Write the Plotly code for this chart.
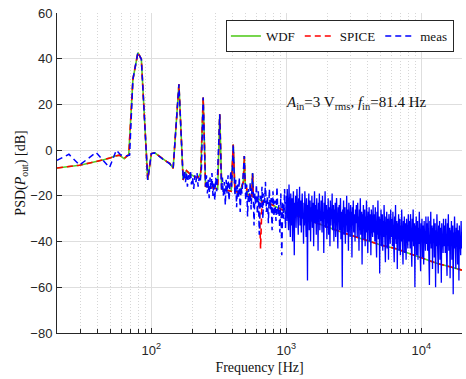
import numpy as np
import plotly.graph_objects as go

# ---------------- data ----------------
wdf_freq = [20, 25, 29.4, 35, 40, 45, 50, 53, 58, 63, 68, 73, 79.5, 84.3, 94, 100, 106, 115, 122, 130,
            137, 145, 160, 172, 182, 195, 210, 222, 232, 242, 252, 270, 290, 310, 321, 332, 360, 390,
            404, 416, 450, 480, 488, 495, 520, 555, 562, 569, 600, 650, 730, 850, 1000, 1300, 1860,
            2600, 3700, 5000, 6400, 8000, 10000, 13000, 16300, 20000]
wdf_db = [-7.8, -7.2, -6.6, -5.6, -4.9, -4.1, -3.3, -2.7, -2.2, -3.8, -2.0, 31, 42.7, 39.8, -13, -1.5, -1.2, -2.8, -4, -5,
          -5.8, -8, 28.8, -13, -9, -10.6, -11.6, -12, -10, 23, -15.8, -16, -16.5, -17, 15.7, -17, -17.5, -18,
          2.5, -18, -18.5, -14, -2.6, -14, -19.5, -20, -10, -20.5, -21, -22, -23, -25, -27, -29.5, -33,
          -36, -39, -41.5, -43, -45, -47, -49.5, -51, -52.5]

spice_freq = [20, 25, 29.4, 35, 40, 45, 50, 53, 58, 63, 68, 73, 79.5, 84.3, 94, 100, 106, 115, 122, 130,
              137, 145, 160, 172, 182, 195, 210, 222, 232, 242, 252, 270, 290, 310, 321, 332, 360, 390,
              404, 416, 450, 480, 488, 495, 520, 555, 562, 569, 600, 630, 644, 660, 730, 850, 1000, 1300, 1860,
              2600, 3700, 5000, 6400, 8000, 10000, 13000, 16300, 20000]
spice_db = [-7.8, -7.2, -6.6, -5.6, -4.9, -4.1, -3.3, -2.7, -2.2, -3.6, -2.0, 31, 42.7, 39.8, -13, -1.5, -1.2, -2.8, -4, -5,
            -5.8, -8, 28.8, -13, -9, -10.6, -11.6, -12, -10, 23, -15.8, -16, -16.5, -17, 15.7, -17, -17.5, -18,
            2.5, -18, -18.5, -14, -2.6, -14, -19.5, -20, -10, -20.5, -21, -22, -43, -22.5, -23, -25, -27, -29.5, -33,
            -36, -39, -41.5, -43, -45, -47, -49.5, -51, -52.5]

meas_lo_freq = [20, 24.5, 29.4, 39, 49, 55, 59, 64, 69, 73, 79.5, 84.3, 94, 100, 106, 115, 122, 130, 137, 145,
                160, 172, 176, 179, 182, 185, 188, 192, 195, 198, 202, 206, 210, 214, 218, 222, 226, 230, 235,
                242, 252, 256, 260, 264, 268, 272, 277, 281, 286, 290, 295, 300, 305, 310, 321, 331, 336, 341,
                347, 353, 358, 364, 370, 376, 382, 388, 394, 404, 416, 422, 428, 435, 442, 448, 455, 462, 469,
                476, 482, 488, 500, 508, 516, 524, 532, 540, 548, 556, 562, 568, 576, 584, 592, 600, 610, 620,
                630, 640, 650, 660, 670, 680, 690, 700, 712, 724, 736, 748, 760, 772, 784, 796, 810, 824, 838,
                852, 866, 880, 895, 910, 925, 940, 955, 970, 985, 1000]
meas_lo_db = [-4.5, -1.8, -6.5, -1.0, -7.6, 0, -2.0, -2.6, -2.2, 31, 42.7, 39.8, -13, -1.5, -1.2, -3, -4, -5, -6, -8,
              28.8, -13, -9, -14, -10, -16, -11, -13, -9, -15, -12, -17, -11, -14, -10, -16, -12, -14, -8,
              23, -16, -11, -19, -13, -21, -12, -17, -10, -20, -14, -22, -12, -18, -9, 15.7, -18, -12, -20,
              -14, -24, -13, -19, -11, -22, -15, -9, -16, 2.5, -20, -13, -25, -15, -21, -12, -27, -16, -19,
              -11, -8, -2.6, -22, -15, -29, -17, -23, -14, -26, -13, -10, -18, -33, -19, -24, -15, -28, -18,
              -37, -20, -25, -16, -30, -19, -23, -14, -27, -20, -32, -17, -26, -21, -35, -18, -29, -22, -31,
              -16, -28, -24, -36, -19, -46, -23, -30, -17, -34, -20]

meas_hf_db = [
    -20, -31, -17, -28, -24, -35, -15, -29, -22, -38, -19, -27, -33, -21, -40, -25, -18, -30, -46, -23,
    -27, -20, -34, -26, -17, -31, -24, -37, -21, -29, -16, -33, -27, -22, -36, -25, -19, -30, -28, -41,
    -23, -33, -18, -29, -26, -38, -21, -30, -57, -24, -28, -19, -35, -27, -22, -40, -25, -31, -20, -34,
    -29, -23, -42, -26, -18, -32, -28, -24, -37, -21, -30, -26, -44, -23, -29, -19, -35, -27, -31, -22,
    -25, -36, -20, -31, -27, -45, -23, -30, -18, -34, -28, -24, -39, -26, -32, -21, -37, -29, -25, -42,
    -22, -33, -27, -30, -19, -35, -28, -24, -40, -26, -31, -23, -38, -29, -21, -34, -27, -43, -25, -30,
    -24, -35, -28, -21, -39, -27, -32, -60, -26, -30, -22, -37, -29, -25, -41, -28, -33, -20, -36, -30,
    -26, -44, -23, -34, -29, -38, -24, -31, -27, -47, -25, -33, -22, -36, -30, -28, -40, -26, -32, -24,
    -27, -38, -23, -33, -29, -44, -26, -35, -21, -37, -31, -27, -50, -28, -34, -24, -39, -30, -26, -42,
    -29, -36, -22, -33, -31, -45, -27, -35, -25, -40, -30, -28, -46, -26, -34, -32, -38, -24, -36, -29,
    -28, -40, -25, -35, -31, -47, -27, -37, -22, -39, -33, -29, -54, -30, -36, -26, -42, -32, -28, -44,
    -31, -38, -24, -35, -33, -49, -29, -37, -27, -43, -32, -30, -48, -28, -36, -34, -41, -26, -38, -31,
    -30, -42, -27, -37, -33, -49, -29, -39, -24, -41, -35, -31, -52, -32, -38, -28, -44, -34, -30, -46,
    -33, -40, -26, -37, -35, -50, -31, -39, -29, -45, -34, -32, -48, -30, -38, -36, -43, -28, -40, -33,
    -31, -43, -28, -38, -34, -51, -30, -40, -26, -42, -36, -32, -60, -33, -39, -29, -46, -35, -31, -48,
    -34, -41, -27, -38, -36, -53, -32, -40, -30, -47, -35, -33, -50, -31, -39, -37, -44, -29, -41, -34,
    -32, -44, -29, -39, -35, -59, -31, -41, -27, -43, -37, -33, -52, -34, -40, -30, -47, -36, -32, -60,
    -35, -42, -28, -39, -37, -54, -33, -41, -31, -48, -36, -34, -58, -32, -40, -38, -45, -30, -42, -35,
    -33, -45, -30, -40, -36, -55, -32, -42, -28, -44, -38, -34, -56, -35, -41, -31, -48, -37, -33, -63,
    -36, -43, -29, -40, -38, -52, -34, -42, -32, -50, -37, -35, -57, -33, -41, -39, -46, -31, -43, -36,
]
# frequency bins of the high-frequency part (evenly spaced on the log axis, 1 kHz .. 20 kHz)
meas_hf_freq = list(np.geomspace(1000, 20000, len(meas_hf_db)))

y_ticks = [-80, -60, -40, -20, 0, 20, 40, 60]
x_ticks = [100, 1000, 10000]
x_tick_text = ["10<sup>2</sup>", "10<sup>3</sup>", "10<sup>4</sup>"]
x_minor = [20, 30, 40, 50, 60, 70, 80, 90, 200, 300, 400, 500, 600, 700, 800, 900,
           2000, 3000, 4000, 5000, 6000, 7000, 8000, 9000, 20000]

# ---------------- figure ----------------
SERIF = "Liberation Serif, Times New Roman, serif"
SANS = "Liberation Sans, Arial, Helvetica, sans-serif"

fig = go.Figure()
fig.add_trace(go.Scatter(x=wdf_freq, y=wdf_db, mode="lines", name="WDF",
                         line=dict(color="#55cc22", width=1.6)))
fig.add_trace(go.Scatter(x=spice_freq, y=spice_db, mode="lines", name="SPICE",
                         line=dict(color="#ff0000", width=1.6, dash="6px,4px")))
fig.add_trace(go.Scatter(x=meas_lo_freq, y=meas_lo_db, mode="lines", name="meas", legendgroup="meas",
                         line=dict(color="#0000ff", width=1.5, dash="6px,4px")))
# dense high-frequency part of the measurement (bins so close that the dashes merge)
fig.add_trace(go.Scatter(x=meas_hf_freq, y=meas_hf_db, mode="lines", name="meas", legendgroup="meas",
                         showlegend=False, line=dict(color="#0000ff", width=1.3)))

fig.update_layout(
    width=466, height=379,
    margin=dict(l=57, r=4, t=13, b=46),
    paper_bgcolor="white", plot_bgcolor="white",
    showlegend=True,
    legend=dict(orientation="h", x=0.98, y=0.978, xanchor="right", yanchor="top",
                bordercolor="#262626", borderwidth=1, bgcolor="white",
                font=dict(family=SERIF, size=13, color="#111111"),
                itemwidth=30, tracegroupgap=0),
    annotations=[dict(x=np.log10(3300), y=20.5, xref="x", yref="y",
                      text="<i>A</i><sub>in</sub>=3 V<sub>rms</sub>, <i>f</i><sub>in</sub>=81.4 Hz",
                      showarrow=False, font=dict(family=SERIF, size=15, color="#111111"))],
)

fig.update_xaxes(
    type="log", range=[np.log10(20), np.log10(20000)],
    tickvals=x_ticks, ticktext=x_tick_text,
    tickfont=dict(family=SANS, size=13, color="#262626"),
    ticks="inside", ticklen=5, tickcolor="#262626", ticklabelstandoff=5,
    showline=True, linecolor="#262626", linewidth=1, mirror=False,
    showgrid=True, gridcolor="#dedede", gridwidth=1,
    minor=dict(tickvals=x_minor, ticks="inside", ticklen=4, tickcolor="#262626",
               showgrid=True, gridcolor="#d6d6d6", griddash="1px,2px", gridwidth=1),
    title=dict(text="Frequency [Hz]", font=dict(family=SERIF, size=14, color="#111111"), standoff=5),
    zeroline=False,
)
fig.update_yaxes(
    range=[-80, 60], tickvals=y_ticks,
    tickfont=dict(family=SANS, size=13, color="#262626"),
    ticks="inside", ticklen=5, tickcolor="#262626", ticklabelstandoff=1,
    showline=True, linecolor="#262626", linewidth=1, mirror=False,
    showgrid=True, gridcolor="#dedede", gridwidth=1,
    title=dict(text="PSD(<i>P</i><sub>out</sub>) [dB]", font=dict(family=SERIF, size=14, color="#111111"),
               standoff=0),
    zeroline=False,
)

fig.write_html("out.html")
